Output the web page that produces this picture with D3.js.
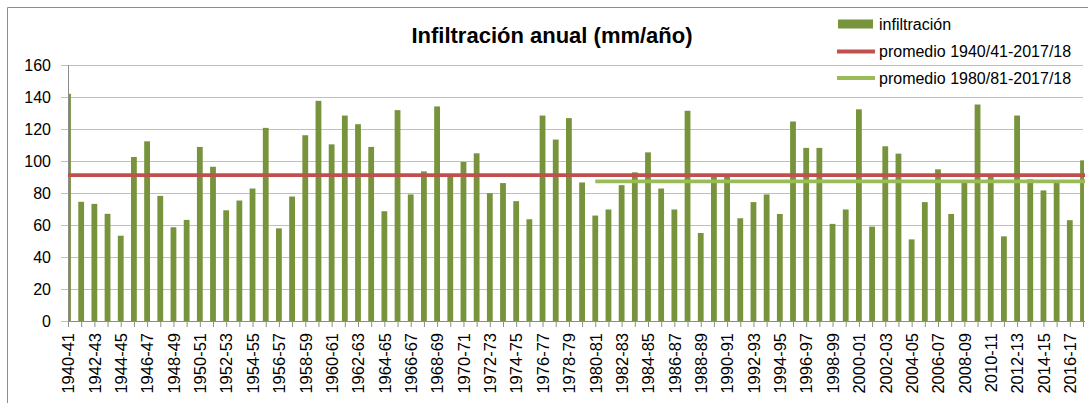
<!DOCTYPE html>
<html>
<head>
<meta charset="utf-8">
<script src="https://cdn.jsdelivr.net/npm/d3@7"></script>
<style>
  html, body { margin: 0; padding: 0; background: #ffffff; }
  svg { display: block; }
  text { font-family: "Liberation Sans", Arial, sans-serif; fill: #000; }
</style>
</head>
<body>
<svg id="chart" width="1088" height="403"></svg>
<script>
// Hydrological years
const categories = [
  "1940-41","1941-42","1942-43","1943-44","1944-45","1945-46","1946-47","1947-48","1948-49","1949-50",
  "1950-51","1951-52","1952-53","1953-54","1954-55","1955-56","1956-57","1957-58","1958-59","1959-60",
  "1960-61","1961-62","1962-63","1963-64","1964-65","1965-66","1966-67","1967-68","1968-69","1969-70",
  "1970-71","1971-72","1972-73","1973-74","1974-75","1975-76","1976-77","1977-78","1978-79","1979-80",
  "1980-81","1981-82","1982-83","1983-84","1984-85","1985-86","1986-87","1987-88","1988-89","1989-90",
  "1990-91","1991-92","1992-93","1993-94","1994-95","1995-96","1996-97","1997-98","1998-99","1999-00",
  "2000-01","2001-02","2002-03","2003-04","2004-05","2005-06","2006-07","2007-08","2008-09","2009-10",
  "2010-11","2011-12","2012-13","2013-14","2014-15","2015-16","2016-17","2017-18"
];

// Annual infiltration (mm/año)
const infiltracion = [
  142, 74.5, 73.2, 67, 53.3, 102.5, 112.3, 78.2, 58.6, 63.2,
  108.8, 96.4, 69.2, 75.3, 82.8, 120.7, 57.9, 77.8, 116.1, 137.6,
  110.4, 128.4, 123, 108.8, 68.6, 131.8, 79.1, 93.5, 134.1, 90.4,
  99.4, 104.8, 79.9, 86.2, 74.9, 63.6, 128.4, 113.4, 126.8, 86.6,
  65.9, 69.7, 84.9, 92.9, 105.4, 82.8, 69.7, 131.4, 55, 90,
  90, 64.2, 74.3, 79.1, 66.9, 124.7, 108.2, 108.2, 60.7, 69.7,
  132.3, 59, 109.2, 104.6, 51, 74.3, 94.8, 66.9, 86.4, 135.3,
  90, 52.9, 128.4, 88.5, 81.6, 86.4, 63, 100.4
];

// Average lines: value and the period they cover
const promedioTotal = { label: "promedio 1940/41-2017/18", value: 91.2, from: "1940-41", to: "2017-18" };
const promedioReciente = { label: "promedio 1980/81-2017/18", value: 87.3, from: "1980-81", to: "2017-18" };

const yTicks = [0, 20, 40, 60, 80, 100, 120, 140, 160];
const xTickLabels = categories.filter((d, i) => i % 2 === 0);

const colors = { bar: "#77933C", total: "#C0504D", reciente: "#9BBB59", grid: "#BFBFBF", axis: "#8C8C8C", frame: "#8C8C8C" };

const svg = d3.select("#chart");
const plot = { left: 68, right: 1083, top: 65, bottom: 321 };

const x = d3.scalePoint().domain(categories).range([plot.left, plot.right]);
const y = d3.scaleLinear().domain([0, 160]).range([plot.bottom, plot.top]);
const barWidth = 5.8;

// Outer frame
svg.append("path")
  .attr("d", `M7.5,403 V7.5 H1088`)
  .attr("fill", "none").attr("stroke", colors.frame).attr("stroke-width", 1);

// Title
svg.append("text")
  .attr("x", 552).attr("y", 43)
  .attr("text-anchor", "middle")
  .style("font-weight", "bold").style("font-size", "22px")
  .text("Infiltración anual (mm/año)");

// Horizontal gridlines with outside tick marks
const yAxis = d3.axisLeft(y).tickValues(yTicks).tickSize(plot.right - plot.left + 7).tickPadding(10);
const gy = svg.append("g").attr("transform", `translate(${plot.right},0)`).call(yAxis);
gy.select(".domain").remove();
gy.selectAll(".tick line").attr("stroke", colors.grid).attr("shape-rendering", "crispEdges");
gy.selectAll(".tick text")
  .attr("x", -(plot.right - 51)).attr("text-anchor", "end")
  .style("font-size", "16px").style("font-family", "'Liberation Sans', Arial, sans-serif").attr("fill", "#000");

// Vertical value axis line
svg.append("line")
  .attr("x1", plot.left + 0.5).attr("x2", plot.left + 0.5)
  .attr("y1", plot.top).attr("y2", plot.bottom)
  .attr("stroke", colors.axis);

// Bars, clipped to the plot area
svg.append("clipPath").attr("id", "plotClip")
  .append("rect").attr("x", plot.left + 1).attr("y", 0)
  .attr("width", plot.right - plot.left).attr("height", plot.bottom + 1);

svg.append("g").attr("clip-path", "url(#plotClip)")
  .selectAll("rect").data(infiltracion).join("rect")
  .attr("x", (d, i) => x(categories[i]) - barWidth / 2)
  .attr("width", barWidth)
  .attr("y", d => y(d))
  .attr("height", d => y(0) - y(d))
  .attr("fill", colors.bar);

// Category axis
const xAxis = d3.axisBottom(x).tickSize(6).tickFormat(d => xTickLabels.includes(d) ? d : "");
const gx = svg.append("g").attr("transform", `translate(0,${plot.bottom})`).call(xAxis);
gx.select(".domain").attr("stroke", colors.axis).attr("d", `M${plot.left},0.5H${plot.right + 2}`);
gx.selectAll(".tick line").attr("stroke", colors.axis);
gx.selectAll(".tick text")
  .style("font-size", "16.5px").style("font-family", "'Liberation Sans', Arial, sans-serif").attr("fill", "#000")
  .attr("text-anchor", "end")
  .attr("transform", "rotate(-90)")
  .attr("x", -12).attr("y", 0).attr("dy", "0.35em");

// Average lines
function drawAverage(p, color) {
  svg.append("line")
    .attr("x1", x(p.from)).attr("x2", x(p.to) + 2)
    .attr("y1", y(p.value)).attr("y2", y(p.value))
    .attr("stroke", color).attr("stroke-width", 3.8);
}
drawAverage(promedioTotal, colors.total);
drawAverage(promedioReciente, colors.reciente);

// Legend
const legend = svg.append("g");
const legendRows = [
  { label: "infiltración", type: "bar", color: colors.bar, cy: 24 },
  { label: promedioTotal.label, type: "line", color: colors.total, cy: 51.5 },
  { label: promedioReciente.label, type: "line", color: colors.reciente, cy: 78 }
];
legendRows.forEach(r => {
  if (r.type === "bar") {
    legend.append("rect").attr("x", 838).attr("y", r.cy - 4.5).attr("width", 35).attr("height", 9).attr("fill", r.color);
  } else {
    legend.append("line").attr("x1", 837).attr("x2", 875).attr("y1", r.cy).attr("y2", r.cy)
      .attr("stroke", r.color).attr("stroke-width", 3.8);
  }
  legend.append("text").attr("x", 879).attr("y", r.cy).attr("dy", "0.35em")
    .style("font-size", "16px").text(r.label);
});
</script>
</body>
</html>
